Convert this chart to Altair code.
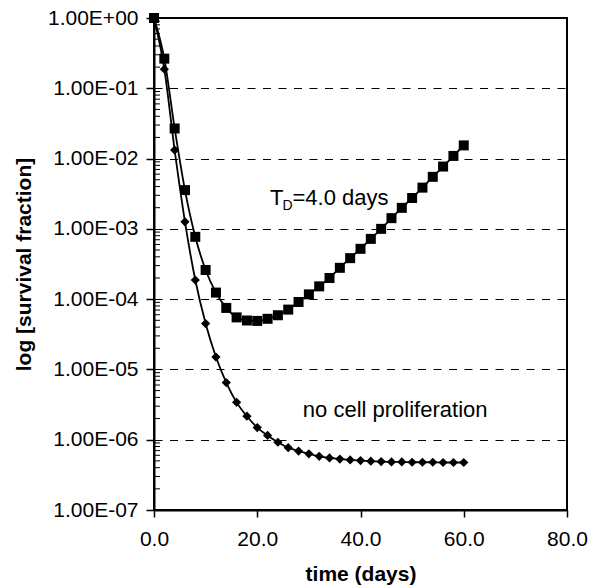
import altair as alt
import pandas as pd

days = [0, 2, 4, 6, 8, 10, 12, 14, 16, 18, 20, 22, 24, 26, 28, 30,
        32, 34, 36, 38, 40, 42, 44, 46, 48, 50, 52, 54, 56, 58, 60]

td4 = [1.0, 0.264, 0.0268, 3.56e-3, 7.7e-4, 2.6e-4, 1.24e-4, 7.5e-5, 5.5e-5,
       4.97e-5, 4.9e-5, 5.25e-5, 5.9e-5, 7.1e-5, 9.1e-5, 1.17e-4, 1.52e-4,
       2.0e-4, 2.79e-4, 3.83e-4, 5.2e-4, 7.2e-4, 1.0e-3, 1.42e-3, 1.99e-3,
       2.75e-3, 3.86e-3, 5.5e-3, 7.7e-3, 1.09e-2, 1.54e-2]

no_prolif = [1.0, 0.187, 0.0132, 1.26e-3, 1.87e-4, 4.5e-5, 1.5e-5, 6.5e-6,
             3.4e-6, 2.16e-6, 1.49e-6, 1.15e-6, 9.2e-7, 7.7e-7, 6.9e-7, 6.3e-7,
             5.8e-7, 5.5e-7, 5.3e-7, 5.16e-7, 5.05e-7, 4.95e-7, 4.88e-7,
             4.83e-7, 4.83e-7, 4.78e-7, 4.78e-7, 4.78e-7, 4.74e-7, 4.74e-7,
             4.74e-7]

x_ticks = [0, 20, 40, 60, 80]
y_ticks = [1e-7, 1e-6, 1e-5, 1e-4, 1e-3, 1e-2, 1e-1, 1.0]
minor_ticks = [m * d for d in [1e-7, 1e-6, 1e-5, 1e-4, 1e-3, 1e-2, 1e-1]
               for m in [2, 3, 4, 5, 6, 7, 8, 9]]

FONT = "Liberation Sans"

df_td = pd.DataFrame({"t": days, "sf": td4})
df_np = pd.DataFrame({"t": days, "sf": no_prolif})
df_minor = pd.DataFrame({"sf": minor_ticks})

xs = alt.Scale(domain=[0, 80], nice=False)
ys = alt.Scale(type="log", domain=[1e-7, 1], nice=False)

x_enc = alt.X("t:Q", scale=xs, title="time (days)",
              axis=alt.Axis(values=x_ticks, format=".1f", grid=False,
                            labelFlush=False, labelOverlap=False,
                            tickSize=7, labelPadding=11, titlePadding=14))
y_enc = alt.Y("sf:Q", scale=ys, title="log [survival fraction]",
              axis=alt.Axis(values=y_ticks, grid=True, gridColor="black",
                            gridDash=[8, 7.5], gridWidth=1, tickSize=8,
                            labelFlush=False, labelOverlap=False,
                            labelPadding=8, titlePadding=13,
                            labelExpr="datum.value >= 1 ? '1.00E+00' : '1.00E-0' + format(round(-log(datum.value) / LN10), 'd')"))

minor = alt.Chart(df_minor).mark_rule(color="black", strokeWidth=1).encode(
    y=alt.Y("sf:Q", scale=ys), x=alt.value(0), x2=alt.value(6))

line_td = alt.Chart(df_td).mark_line(color="black", strokeWidth=1.8,
                                      interpolate="monotone").encode(x=x_enc, y=y_enc)
pts_td = alt.Chart(df_td).mark_point(shape="square", filled=True, color="black",
                                      size=100, opacity=1).encode(x="t:Q", y="sf:Q")
line_np = alt.Chart(df_np).mark_line(color="black", strokeWidth=1.8,
                                      interpolate="monotone").encode(x="t:Q", y="sf:Q")
pts_np = alt.Chart(df_np).mark_point(shape="diamond", filled=True, color="black",
                                      size=85, opacity=1).encode(x="t:Q", y="sf:Q")

ann = pd.DataFrame({"t": [22.47], "sf": [2.19e-3]})
t_T = alt.Chart(ann).mark_text(text="T", align="left", baseline="alphabetic",
                               font=FONT, fontSize=22, color="black").encode(x="t:Q", y="sf:Q")
t_D = alt.Chart(ann).mark_text(text="D", align="left", baseline="alphabetic", dx=12.6, dy=5,
                               font=FONT, fontSize=14, color="black").encode(x="t:Q", y="sf:Q")
t_rest = alt.Chart(ann).mark_text(text="=4.0 days", align="left", baseline="alphabetic", dx=22.5,
                                  font=FONT, fontSize=22, color="black").encode(x="t:Q", y="sf:Q")

ann2 = pd.DataFrame({"t": [28.83], "sf": [2.11e-6]})
t_np = alt.Chart(ann2).mark_text(text="no cell proliferation", align="left",
                                 baseline="alphabetic", font=FONT, fontSize=22,
                                 color="black").encode(x="t:Q", y="sf:Q")

chart = alt.layer(line_td, line_np, minor, pts_td, pts_np, t_T, t_D, t_rest, t_np).properties(
    width=413, height=492,
    autosize=alt.AutoSizeParams(type="none"),
    padding={"left": 146, "top": 10, "right": 25, "bottom": 78},
).configure_view(stroke="black", strokeWidth=2).configure_axis(
    domainColor="black", domainWidth=2, tickColor="black", tickWidth=1.5,
    labelFont=FONT, labelFontSize=21, labelColor="black",
    titleFont=FONT, titleFontSize=21, titleFontWeight="bold", titleColor="black",
)

chart.save("out.html", embed_options={"renderer": "svg", "actions": False})
